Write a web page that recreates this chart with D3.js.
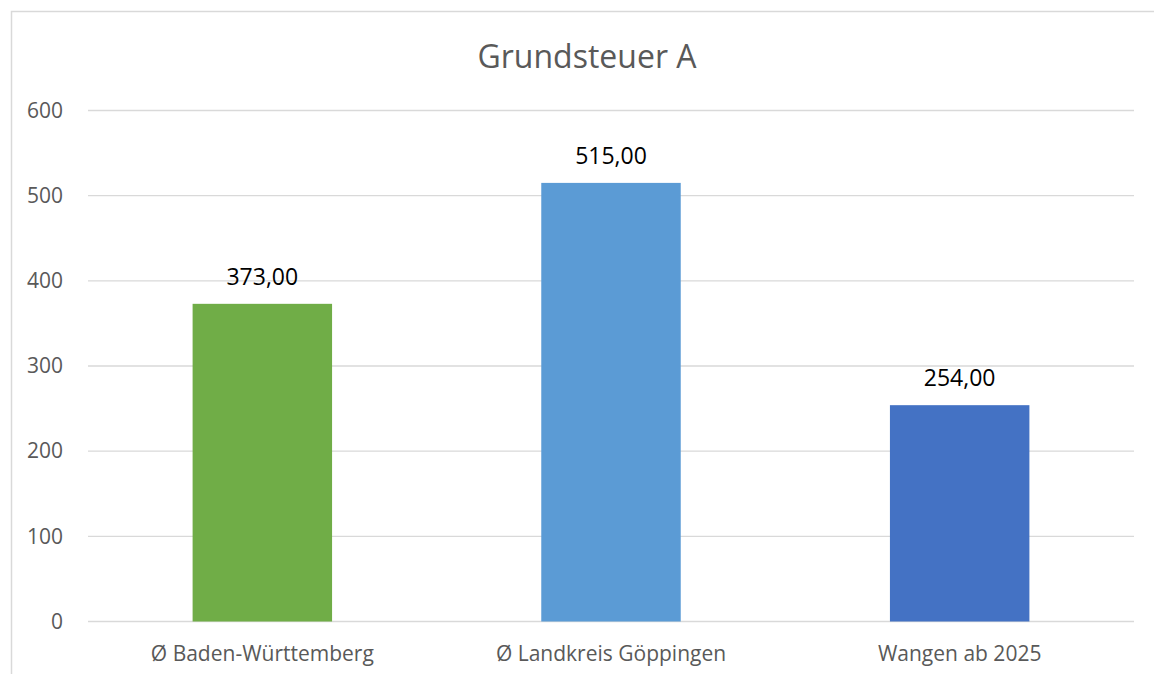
<!DOCTYPE html>
<meta charset="utf-8">
<script src="https://d3js.org/d3.v7.min.js"></script>
<style>
    body { margin: 0; background: #fff; }
    svg text { font-family: "Open Sans", "Noto Sans", sans-serif; }
</style>
<div id="chart"></div>

<script>
    const categories = ["Ø Baden-Württemberg", "Ø Landkreis Göppingen", "Wangen ab 2025"];
    const values = [373, 515, 254];
    const barColors = ["#70ad47", "#5b9bd5", "#4472c4"];
    const yTicks = [0, 100, 200, 300, 400, 500, 600];
    const title = "Grundsteuer A";

    const width = 1154, height = 674;
    const plot = {left: 88, right: 1134, top: 110.5, bottom: 621.5};

    const svg = d3.select("#chart")
        .append("svg")
        .attr("width", width)
        .attr("height", height);

    // chart frame (cut off at right and bottom like the screenshot)
    svg.append("rect")
        .attr("x", 11.5).attr("y", 11.5)
        .attr("width", 1160).attr("height", 680)
        .attr("fill", "#fff")
        .attr("stroke", "#d9d9d9")
        .attr("stroke-width", 1.5);

    var x = d3.scaleBand()
        .domain(categories)
        .range([plot.left, plot.right])
        .paddingInner(0.6)
        .paddingOuter(0.3);

    var y = d3.scaleLinear().domain([0, 600]).range([plot.bottom, plot.top]);

    // gridlines
    svg.append("g")
        .selectAll("line")
        .data(yTicks)
        .enter().append("line")
            .attr("x1", plot.left).attr("x2", plot.right)
            .attr("y1", d => y(d)).attr("y2", d => y(d))
            .attr("stroke", "#d9d9d9")
            .attr("stroke-width", 1.3);

    // y axis labels
    var yAxis = svg.append("g")
        .attr("transform", "translate(63,0)")
        .call(d3.axisLeft(y).tickValues(yTicks).tickSize(0).tickPadding(0));
    yAxis.select(".domain").remove();
    yAxis.selectAll("text")
        .attr("font-size", 21)
        .attr("fill", "#595959");

    // bars
    svg.append("g")
        .selectAll("rect")
        .data(values)
        .enter().append("rect")
            .attr("x", (d, i) => x(categories[i]))
            .attr("y", d => y(d))
            .attr("width", x.bandwidth())
            .attr("height", d => y(0) - y(d))
            .attr("fill", (d, i) => barColors[i]);

    // data labels
    svg.append("g")
        .selectAll("text")
        .data(values)
        .enter().append("text")
            .attr("x", (d, i) => x(categories[i]) + x.bandwidth() / 2)
            .attr("y", d => y(d) - 19)
            .attr("text-anchor", "middle")
            .attr("font-size", 23)
            .attr("fill", "#000")
            .text(d => d.toFixed(2).replace(".", ","));

    // x axis labels
    var xAxis = svg.append("g")
        .attr("transform", "translate(0," + plot.bottom + ")")
        .call(d3.axisBottom(x).tickSize(0).tickPadding(25));
    xAxis.select(".domain").remove();
    xAxis.selectAll("text")
        .attr("font-size", 21)
        .attr("fill", "#595959");

    // title
    svg.append("text")
        .attr("x", 587)
        .attr("y", 68)
        .attr("text-anchor", "middle")
        .attr("font-size", 32)
        .attr("fill", "#595959")
        .text(title);
</script>
